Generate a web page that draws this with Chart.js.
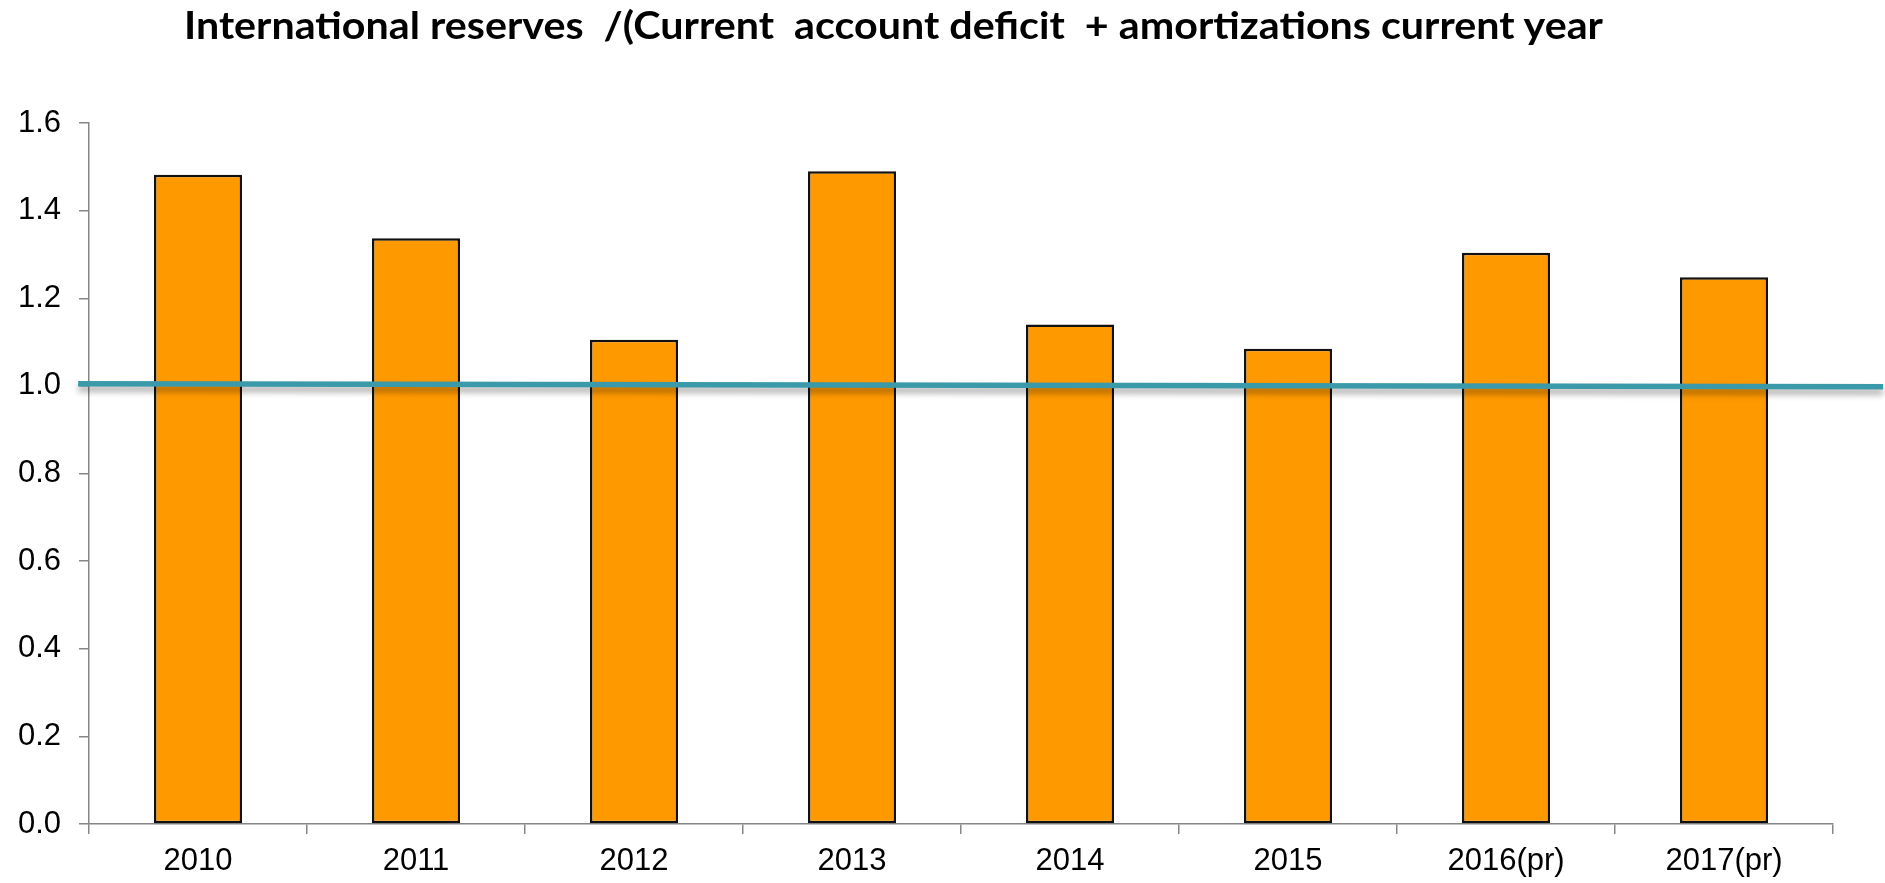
<!DOCTYPE html>
<html>
<head>
<meta charset="utf-8">
<script src="https://cdn.jsdelivr.net/npm/chart.js@4.4.1/dist/chart.umd.min.js"></script>
<style>
  html, body { margin: 0; padding: 0; background: #fff; }
  #wrap { position: relative; width: 1885px; height: 883px; }
  #title {
    position: absolute; left: 184px; top: 5px;
    font-family: Lato, "Open Sans", sans-serif; font-weight: bold;
    font-size: 38px; line-height: 1; color: #000;
    white-space: pre; transform-origin: 0 0;
  }
</style>
</head>
<body>
<div id="wrap">
  <canvas id="reserves"></canvas>
  <div id="title">International reserves  /(Current  account deficit  + amortizations current year</div>
</div>
<script>
// categories and values
const years = ['2010', '2011', '2012', '2013', '2014', '2015', '2016(pr)', '2017(pr)'];
const coverage = [1.482, 1.337, 1.105, 1.490, 1.140, 1.085, 1.304, 1.248];
// reference line (value 1), running slightly past both ends of the axis
const refLineX = [-0.55, 7.73];
const refLineY = [1.005, 0.998];
const yTicks = [0, 0.2, 0.4, 0.6, 0.8, 1.0, 1.2, 1.4, 1.6];

// squeeze title to its width
const title = document.getElementById('title');
const w = title.getBoundingClientRect().width;
title.style.transform = 'scaleX(' + (1419 / w) + ')';

const axisGray = '#868686';
const tickFont = { family: '"Liberation Sans", Arial, sans-serif', size: 31 };

// soft shadow under the reference line
const lineShadow = {
  id: 'lineShadow',
  beforeDatasetDraw(chart, args) {
    if (args.meta.type !== 'line') return;
    const ctx = chart.ctx;
    ctx.save();
    ctx.shadowColor = 'rgba(0, 0, 0, 0.35)';
    ctx.shadowBlur = 6;
    ctx.shadowOffsetY = 5;
  },
  afterDatasetDraw(chart, args) {
    if (args.meta.type !== 'line') return;
    chart.ctx.restore();
  }
};

new Chart(document.getElementById('reserves'), {
  type: 'bar',
  data: {
    labels: years,
    datasets: [{
      type: 'line',
      data: refLineX.map((x, i) => ({ x: x, y: refLineY[i] })),
      xAxisID: 'xLine',
      yAxisID: 'y',
      borderColor: '#3b9aa9',
      borderWidth: 5.5,
      pointRadius: 0,
      tension: 0,
      clip: false,
      order: 0
    }, {
      data: coverage,
      xAxisID: 'x',
      yAxisID: 'y',
      grouped: false,   // single series: bar sits right on its category
      backgroundColor: '#ff9900',
      borderColor: '#111',
      borderWidth: 2.5,
      borderSkipped: false,
      categoryPercentage: 1,
      barPercentage: 0.404,
      order: 1
    }]
  },
  options: {
    responsive: true,
    maintainAspectRatio: false,
    animation: false,
    layout: { padding: { top: 123, right: 52, bottom: 0, left: 0 } },
    plugins: {
      legend: { display: false },
      tooltip: { enabled: false }
    },
    scales: {
      x: {
        type: 'category',
        offset: true,
        border: { color: axisGray, width: 1.5 },
        grid: { offset: true, drawOnChartArea: false, drawTicks: true, tickLength: 10, color: axisGray, lineWidth: 1.5 },
        ticks: { color: '#000', font: tickFont, padding: 9, maxRotation: 0 },
        afterFit(scale) { scale.height = 59; }
      },
      xLine: {
        type: 'linear',
        axis: 'x',
        display: false,
        offset: false,
        grid: { offset: false },
        min: -0.5,
        max: 7.5
      },
      y: {
        min: 0,
        max: 1.6,
        border: { color: axisGray, width: 1.5 },
        grid: { drawOnChartArea: false, drawTicks: true, tickLength: 10, color: axisGray, lineWidth: 1.5 },
        afterBuildTicks(scale) { scale.ticks = yTicks.map(v => ({ value: v })); },
        ticks: {
          color: '#000', font: tickFont, padding: 18,
          callback: v => Number(v).toFixed(1)
        },
        afterFit(scale) { scale.width = 89; }
      }
    }
  },
  plugins: [lineShadow]
});
</script>
</body>
</html>
